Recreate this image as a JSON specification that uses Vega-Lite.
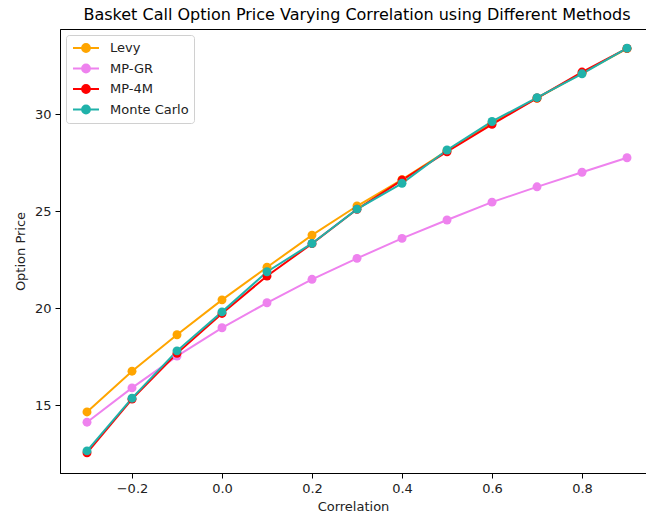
{
  "$schema": "https://vega.github.io/schema/vega-lite/v6.json",
  "autosize": {"type": "none"},
  "padding": {"left": 60, "top": 29, "right": 0, "bottom": 45},
  "width": 586,
  "height": 444,
  "title": {"text": "Basket Call Option Price Varying Correlation using Different Methods", "fontSize": 16, "font": "DejaVu Sans", "fontWeight": "normal", "color": "#000", "offset": 6, "dx": 4, "anchor": "middle"},
  "config": {
    "font": "DejaVu Sans",
    "view": {"stroke": "#000", "strokeWidth": 1},
    "axis": {"grid": false, "domainColor": "#000", "tickColor": "#000", "labelColor": "#222", "titleColor": "#222", "labelFontSize": 13, "titleFontSize": 13, "titleFontWeight": "normal", "tickSize": 5, "labelPadding": 4, "labelFont": "DejaVu Sans", "titleFont": "DejaVu Sans"},
    "legend": {"strokeColor": "#d0d0d0", "fillColor": "#ffffff", "cornerRadius": 3, "padding": 5, "labelFontSize": 13, "labelFont": "DejaVu Sans", "labelColor": "#222", "rowPadding": 4.5, "symbolStrokeWidth": 2, "symbolSize": 196, "labelOffset": 23}
  },
  "data": {"values": [
    {"corr": -0.3, "price": 14.65, "method": "Levy"},
    {"corr": -0.2, "price": 16.75, "method": "Levy"},
    {"corr": -0.1, "price": 18.63, "method": "Levy"},
    {"corr": 0.0, "price": 20.43, "method": "Levy"},
    {"corr": 0.1, "price": 22.11, "method": "Levy"},
    {"corr": 0.2, "price": 23.77, "method": "Levy"},
    {"corr": 0.3, "price": 25.27, "method": "Levy"},
    {"corr": 0.4, "price": 26.63, "method": "Levy"},
    {"corr": 0.5, "price": 28.12, "method": "Levy"},
    {"corr": 0.6, "price": 29.55, "method": "Levy"},
    {"corr": 0.7, "price": 30.83, "method": "Levy"},
    {"corr": 0.8, "price": 32.12, "method": "Levy"},
    {"corr": 0.9, "price": 33.39, "method": "Levy"},
    {"corr": -0.3, "price": 14.12, "method": "MP-GR"},
    {"corr": -0.2, "price": 15.89, "method": "MP-GR"},
    {"corr": -0.1, "price": 17.53, "method": "MP-GR"},
    {"corr": 0.0, "price": 18.99, "method": "MP-GR"},
    {"corr": 0.1, "price": 20.28, "method": "MP-GR"},
    {"corr": 0.2, "price": 21.49, "method": "MP-GR"},
    {"corr": 0.3, "price": 22.57, "method": "MP-GR"},
    {"corr": 0.4, "price": 23.6, "method": "MP-GR"},
    {"corr": 0.5, "price": 24.55, "method": "MP-GR"},
    {"corr": 0.6, "price": 25.47, "method": "MP-GR"},
    {"corr": 0.7, "price": 26.26, "method": "MP-GR"},
    {"corr": 0.8, "price": 27.01, "method": "MP-GR"},
    {"corr": 0.9, "price": 27.76, "method": "MP-GR"},
    {"corr": -0.3, "price": 12.54, "method": "MP-4M"},
    {"corr": -0.2, "price": 15.31, "method": "MP-4M"},
    {"corr": -0.1, "price": 17.67, "method": "MP-4M"},
    {"corr": 0.0, "price": 19.73, "method": "MP-4M"},
    {"corr": 0.1, "price": 21.66, "method": "MP-4M"},
    {"corr": 0.2, "price": 23.33, "method": "MP-4M"},
    {"corr": 0.3, "price": 25.1, "method": "MP-4M"},
    {"corr": 0.4, "price": 26.61, "method": "MP-4M"},
    {"corr": 0.5, "price": 28.07, "method": "MP-4M"},
    {"corr": 0.6, "price": 29.48, "method": "MP-4M"},
    {"corr": 0.7, "price": 30.84, "method": "MP-4M"},
    {"corr": 0.8, "price": 32.18, "method": "MP-4M"},
    {"corr": 0.9, "price": 33.4, "method": "MP-4M"},
    {"corr": -0.3, "price": 12.64, "method": "Monte Carlo"},
    {"corr": -0.2, "price": 15.36, "method": "Monte Carlo"},
    {"corr": -0.1, "price": 17.8, "method": "Monte Carlo"},
    {"corr": 0.0, "price": 19.81, "method": "Monte Carlo"},
    {"corr": 0.1, "price": 21.88, "method": "Monte Carlo"},
    {"corr": 0.2, "price": 23.34, "method": "Monte Carlo"},
    {"corr": 0.3, "price": 25.11, "method": "Monte Carlo"},
    {"corr": 0.4, "price": 26.44, "method": "Monte Carlo"},
    {"corr": 0.5, "price": 28.16, "method": "Monte Carlo"},
    {"corr": 0.6, "price": 29.63, "method": "Monte Carlo"},
    {"corr": 0.7, "price": 30.86, "method": "Monte Carlo"},
    {"corr": 0.8, "price": 32.09, "method": "Monte Carlo"},
    {"corr": 0.9, "price": 33.41, "method": "Monte Carlo"}
  ]},
  "mark": {"type": "line", "strokeWidth": 2, "point": {"filled": true, "size": 80, "opacity": 1}},
  "encoding": {
    "x": {"field": "corr", "type": "quantitative", "scale": {"domain": [-0.36, 0.9422], "nice": false, "zero": false},
      "axis": {"values": [-0.2, 0, 0.2, 0.4, 0.6, 0.8], "format": ".1f", "title": "Correlation", "titlePadding": 5}},
    "y": {"field": "price", "type": "quantitative", "scale": {"domain": [11.5, 34.4], "nice": false, "zero": false},
      "axis": {"values": [15, 20, 25, 30], "format": "d", "title": "Option Price", "titlePadding": 7}},
    "color": {"field": "method", "type": "nominal",
      "scale": {"domain": ["Levy", "MP-GR", "MP-4M", "Monte Carlo"], "range": ["#FFA500", "#EE82EE", "#FF0000", "#20B2AA"]},
      "legend": {"title": null, "orient": "top-left", "offset": 6,
        "symbolType": "M-0.857,0L2.857,0M0.43,0A0.57,0.57 0 1,0 1.57,0A0.57,0.57 0 1,0 0.43,0Z",
        "encode": {"symbols": {"update": {"fill": {"scale": "color", "field": "value"}, "stroke": {"scale": "color", "field": "value"}, "strokeWidth": {"value": 1.8}, "opacity": {"value": 1}}}}}}
  }
}
